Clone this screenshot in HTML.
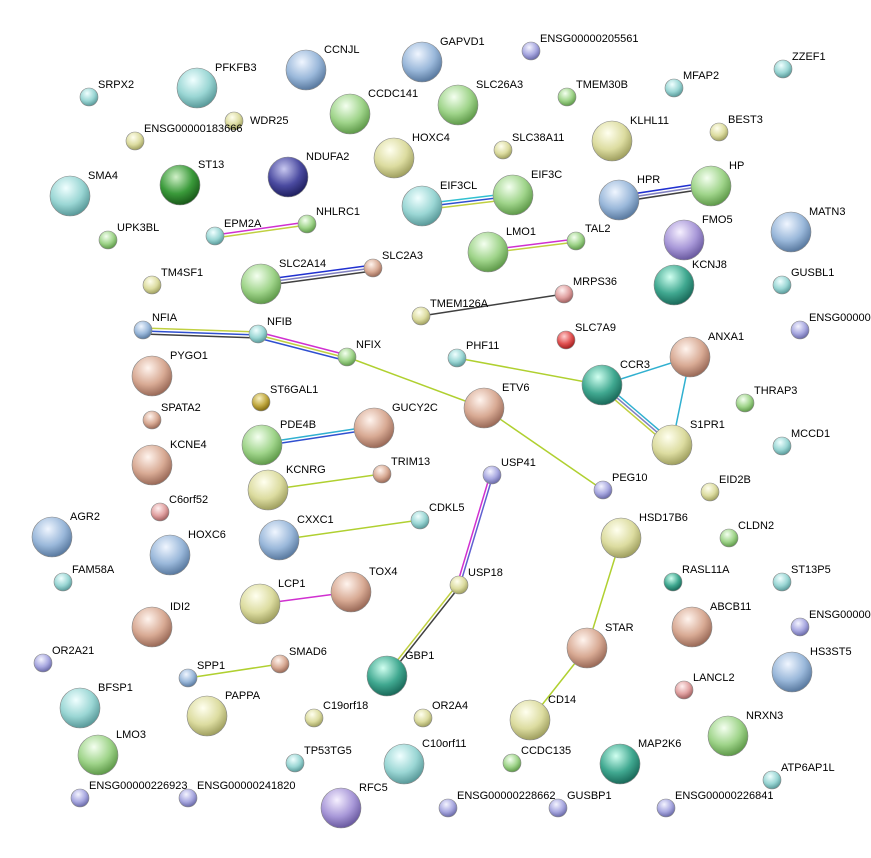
<!DOCTYPE html>
<html><head><meta charset="utf-8"><style>
html,body{margin:0;padding:0;background:#fff;}
svg text{font-family:"Liberation Sans",sans-serif;font-size:11px;fill:#000;}
</style></head><body>
<svg width="871" height="853" xmlns="http://www.w3.org/2000/svg">
<defs>
<radialGradient id="g" cx="40%" cy="30%" r="70%"><stop offset="0" stop-color="#f4fff0"/><stop offset="0.6" stop-color="#9fd48a"/><stop offset="1" stop-color="#5f9a4a"/></radialGradient>
<radialGradient id="t" cx="40%" cy="30%" r="70%"><stop offset="0" stop-color="#f0ffff"/><stop offset="0.6" stop-color="#9ad6d4"/><stop offset="1" stop-color="#5a9a9a"/></radialGradient>
<radialGradient id="b" cx="40%" cy="30%" r="70%"><stop offset="0" stop-color="#f0f6ff"/><stop offset="0.6" stop-color="#9ab8da"/><stop offset="1" stop-color="#5a7aa0"/></radialGradient>
<radialGradient id="y" cx="40%" cy="30%" r="70%"><stop offset="0" stop-color="#ffffef"/><stop offset="0.6" stop-color="#dcdca0"/><stop offset="1" stop-color="#a0a060"/></radialGradient>
<radialGradient id="r" cx="40%" cy="30%" r="70%"><stop offset="0" stop-color="#fff4ee"/><stop offset="0.6" stop-color="#d8aa94"/><stop offset="1" stop-color="#9a6a58"/></radialGradient>
<radialGradient id="p" cx="40%" cy="30%" r="70%"><stop offset="0" stop-color="#f6f0ff"/><stop offset="0.6" stop-color="#a898d8"/><stop offset="1" stop-color="#6a5aa0"/></radialGradient>
<radialGradient id="lv" cx="40%" cy="30%" r="70%"><stop offset="0" stop-color="#f4f4ff"/><stop offset="0.6" stop-color="#a8a8e0"/><stop offset="1" stop-color="#6a6aa8"/></radialGradient>
<radialGradient id="dn" cx="40%" cy="30%" r="70%"><stop offset="0" stop-color="#c8c8f0"/><stop offset="0.6" stop-color="#4a4aa0"/><stop offset="1" stop-color="#202060"/></radialGradient>
<radialGradient id="dg" cx="40%" cy="30%" r="70%"><stop offset="0" stop-color="#d0f0c8"/><stop offset="0.6" stop-color="#3a9a3a"/><stop offset="1" stop-color="#1a5a1a"/></radialGradient>
<radialGradient id="red" cx="40%" cy="30%" r="70%"><stop offset="0" stop-color="#ffd0d0"/><stop offset="0.6" stop-color="#e05050"/><stop offset="1" stop-color="#a02020"/></radialGradient>
<radialGradient id="ol" cx="40%" cy="30%" r="70%"><stop offset="0" stop-color="#f8f0c0"/><stop offset="0.6" stop-color="#c0a840"/><stop offset="1" stop-color="#806a10"/></radialGradient>
<radialGradient id="pk" cx="40%" cy="30%" r="70%"><stop offset="0" stop-color="#fff0f0"/><stop offset="0.6" stop-color="#e0a0a0"/><stop offset="1" stop-color="#a06060"/></radialGradient>
<radialGradient id="tk" cx="40%" cy="30%" r="70%"><stop offset="0" stop-color="#d0fff0"/><stop offset="0.6" stop-color="#40a890"/><stop offset="1" stop-color="#1a6a5a"/></radialGradient>
</defs>
<g stroke-width="1.5" fill="none">
<line x1="215" y1="235" x2="307" y2="222" stroke="#d030d0"/><line x1="215" y1="238" x2="307" y2="225" stroke="#c0d040"/>
<line x1="261" y1="280" x2="373" y2="265" stroke="#2030d0"/><line x1="261" y1="283" x2="373" y2="268" stroke="#8080c0"/><line x1="261" y1="286" x2="373" y2="271" stroke="#404040"/>
<line x1="422" y1="204" x2="513" y2="193" stroke="#30c0d0"/><line x1="422" y1="207" x2="513" y2="196" stroke="#3050d0"/><line x1="422" y1="210" x2="513" y2="199" stroke="#c0d040"/>
<line x1="619" y1="196" x2="711" y2="182" stroke="#2030d0"/><line x1="619" y1="199" x2="711" y2="185" stroke="#8080c0"/><line x1="619" y1="202" x2="711" y2="188" stroke="#404040"/>
<line x1="488" y1="250" x2="576" y2="239" stroke="#d030d0"/><line x1="488" y1="253" x2="576" y2="242" stroke="#c0d040"/>
<line x1="421" y1="316" x2="564" y2="294" stroke="#404040"/>
<line x1="143" y1="328" x2="258" y2="332" stroke="#c0d040"/><line x1="143" y1="331" x2="258" y2="335" stroke="#3050d0"/><line x1="143" y1="334" x2="258" y2="338" stroke="#404040"/>
<line x1="258" y1="332" x2="347" y2="355" stroke="#d030d0"/><line x1="258" y1="335" x2="347" y2="358" stroke="#c0d040"/><line x1="258" y1="338" x2="347" y2="361" stroke="#3050d0"/>
<line x1="347" y1="357" x2="484" y2="408" stroke="#b0d030"/>
<line x1="484" y1="408" x2="603" y2="490" stroke="#b0d030"/>
<line x1="457" y1="358" x2="602" y2="385" stroke="#b0d030"/>
<line x1="602" y1="385" x2="690" y2="357" stroke="#30b0d0"/><line x1="690" y1="357" x2="672" y2="445" stroke="#30b0d0"/>
<line x1="604" y1="383" x2="674" y2="443" stroke="#30b0d0"/><line x1="602" y1="385" x2="672" y2="445" stroke="#8080c0"/><line x1="600" y1="387" x2="670" y2="447" stroke="#c0d040"/>
<line x1="262" y1="443" x2="374" y2="426" stroke="#30b0d0"/><line x1="262" y1="446" x2="374" y2="429" stroke="#3050d0"/>
<line x1="268" y1="490" x2="382" y2="474" stroke="#b0d030"/>
<line x1="279" y1="540" x2="420" y2="520" stroke="#b0d030"/>
<line x1="490" y1="475" x2="457" y2="585" stroke="#d030d0"/><line x1="493" y1="475" x2="460" y2="585" stroke="#6060d0"/>
<line x1="457" y1="585" x2="385" y2="676" stroke="#c0d040"/><line x1="460" y1="586" x2="388" y2="677" stroke="#404040"/>
<line x1="260" y1="604" x2="351" y2="592" stroke="#d030d0"/>
<line x1="621" y1="538" x2="587" y2="648" stroke="#b0d030"/>
<line x1="587" y1="648" x2="530" y2="720" stroke="#b0d030"/>
<line x1="188" y1="678" x2="280" y2="664" stroke="#b0d030"/>
</g>
<g stroke="#888" stroke-width="0.6">
<circle cx="197" cy="88" r="20" fill="url(#t)"/><circle cx="306" cy="70" r="20" fill="url(#b)"/><circle cx="422" cy="62" r="20" fill="url(#b)"/><circle cx="350" cy="114" r="20" fill="url(#g)"/><circle cx="458" cy="105" r="20" fill="url(#g)"/><circle cx="612" cy="141" r="20" fill="url(#y)"/><circle cx="394" cy="158" r="20" fill="url(#y)"/><circle cx="70" cy="196" r="20" fill="url(#t)"/><circle cx="180" cy="185" r="20" fill="url(#dg)"/><circle cx="288" cy="177" r="20" fill="url(#dn)"/><circle cx="422" cy="206" r="20" fill="url(#t)"/><circle cx="513" cy="195" r="20" fill="url(#g)"/><circle cx="619" cy="200" r="20" fill="url(#b)"/><circle cx="711" cy="186" r="20" fill="url(#g)"/><circle cx="684" cy="240" r="20" fill="url(#p)"/><circle cx="791" cy="232" r="20" fill="url(#b)"/><circle cx="488" cy="252" r="20" fill="url(#g)"/><circle cx="674" cy="285" r="20" fill="url(#tk)"/><circle cx="261" cy="284" r="20" fill="url(#g)"/><circle cx="152" cy="376" r="20" fill="url(#r)"/><circle cx="690" cy="357" r="20" fill="url(#r)"/><circle cx="602" cy="385" r="20" fill="url(#tk)"/><circle cx="484" cy="408" r="20" fill="url(#r)"/><circle cx="374" cy="428" r="20" fill="url(#r)"/><circle cx="262" cy="445" r="20" fill="url(#g)"/><circle cx="672" cy="445" r="20" fill="url(#y)"/><circle cx="152" cy="465" r="20" fill="url(#r)"/><circle cx="268" cy="490" r="20" fill="url(#y)"/><circle cx="52" cy="537" r="20" fill="url(#b)"/><circle cx="279" cy="540" r="20" fill="url(#b)"/><circle cx="170" cy="555" r="20" fill="url(#b)"/><circle cx="621" cy="538" r="20" fill="url(#y)"/><circle cx="260" cy="604" r="20" fill="url(#y)"/><circle cx="351" cy="592" r="20" fill="url(#r)"/><circle cx="152" cy="627" r="20" fill="url(#r)"/><circle cx="692" cy="627" r="20" fill="url(#r)"/><circle cx="587" cy="648" r="20" fill="url(#r)"/><circle cx="792" cy="672" r="20" fill="url(#b)"/><circle cx="387" cy="676" r="20" fill="url(#tk)"/><circle cx="80" cy="708" r="20" fill="url(#t)"/><circle cx="207" cy="716" r="20" fill="url(#y)"/><circle cx="728" cy="736" r="20" fill="url(#g)"/><circle cx="530" cy="720" r="20" fill="url(#y)"/><circle cx="98" cy="755" r="20" fill="url(#g)"/><circle cx="404" cy="764" r="20" fill="url(#t)"/><circle cx="620" cy="764" r="20" fill="url(#tk)"/><circle cx="341" cy="808" r="20" fill="url(#p)"/>
<circle cx="89" cy="97" r="9" fill="url(#t)"/><circle cx="531" cy="51" r="9" fill="url(#lv)"/><circle cx="567" cy="97" r="9" fill="url(#g)"/><circle cx="674" cy="88" r="9" fill="url(#t)"/><circle cx="783" cy="69" r="9" fill="url(#t)"/><circle cx="135" cy="141" r="9" fill="url(#y)"/><circle cx="234" cy="121" r="9" fill="url(#y)"/><circle cx="503" cy="150" r="9" fill="url(#y)"/><circle cx="719" cy="132" r="9" fill="url(#y)"/><circle cx="108" cy="240" r="9" fill="url(#g)"/><circle cx="215" cy="236" r="9" fill="url(#t)"/><circle cx="307" cy="224" r="9" fill="url(#g)"/><circle cx="576" cy="241" r="9" fill="url(#g)"/><circle cx="152" cy="285" r="9" fill="url(#y)"/><circle cx="373" cy="268" r="9" fill="url(#r)"/><circle cx="782" cy="285" r="9" fill="url(#t)"/><circle cx="564" cy="294" r="9" fill="url(#pk)"/><circle cx="421" cy="316" r="9" fill="url(#y)"/><circle cx="566" cy="340" r="9" fill="url(#red)"/><circle cx="143" cy="330" r="9" fill="url(#b)"/><circle cx="258" cy="334" r="9" fill="url(#t)"/><circle cx="347" cy="357" r="9" fill="url(#g)"/><circle cx="800" cy="330" r="9" fill="url(#lv)"/><circle cx="457" cy="358" r="9" fill="url(#t)"/><circle cx="261" cy="402" r="9" fill="url(#ol)"/><circle cx="152" cy="420" r="9" fill="url(#r)"/><circle cx="745" cy="403" r="9" fill="url(#g)"/><circle cx="782" cy="446" r="9" fill="url(#t)"/><circle cx="382" cy="474" r="9" fill="url(#r)"/><circle cx="492" cy="475" r="9" fill="url(#lv)"/><circle cx="603" cy="490" r="9" fill="url(#lv)"/><circle cx="710" cy="492" r="9" fill="url(#y)"/><circle cx="160" cy="512" r="9" fill="url(#pk)"/><circle cx="420" cy="520" r="9" fill="url(#t)"/><circle cx="729" cy="538" r="9" fill="url(#g)"/><circle cx="63" cy="582" r="9" fill="url(#t)"/><circle cx="673" cy="582" r="9" fill="url(#tk)"/><circle cx="782" cy="582" r="9" fill="url(#t)"/><circle cx="459" cy="585" r="9" fill="url(#y)"/><circle cx="800" cy="627" r="9" fill="url(#lv)"/><circle cx="43" cy="663" r="9" fill="url(#lv)"/><circle cx="280" cy="664" r="9" fill="url(#r)"/><circle cx="188" cy="678" r="9" fill="url(#b)"/><circle cx="684" cy="690" r="9" fill="url(#pk)"/><circle cx="314" cy="718" r="9" fill="url(#y)"/><circle cx="423" cy="718" r="9" fill="url(#y)"/><circle cx="295" cy="763" r="9" fill="url(#t)"/><circle cx="512" cy="763" r="9" fill="url(#g)"/><circle cx="772" cy="780" r="9" fill="url(#t)"/><circle cx="80" cy="798" r="9" fill="url(#lv)"/><circle cx="188" cy="798" r="9" fill="url(#lv)"/><circle cx="448" cy="808" r="9" fill="url(#lv)"/><circle cx="558" cy="808" r="9" fill="url(#lv)"/><circle cx="666" cy="808" r="9" fill="url(#lv)"/>
</g>
<g>
<text x="215" y="71">PFKFB3</text><text x="324" y="53">CCNJL</text><text x="440" y="45">GAPVD1</text><text x="368" y="97">CCDC141</text><text x="476" y="88">SLC26A3</text><text x="630" y="124">KLHL11</text><text x="412" y="141">HOXC4</text><text x="88" y="179">SMA4</text><text x="198" y="168">ST13</text><text x="306" y="160">NDUFA2</text><text x="440" y="189">EIF3CL</text><text x="531" y="178">EIF3C</text><text x="637" y="183">HPR</text><text x="729" y="169">HP</text><text x="702" y="223">FMO5</text><text x="809" y="215">MATN3</text><text x="506" y="235">LMO1</text><text x="692" y="268">KCNJ8</text><text x="279" y="267">SLC2A14</text><text x="170" y="359">PYGO1</text><text x="708" y="340">ANXA1</text><text x="620" y="368">CCR3</text><text x="502" y="391">ETV6</text><text x="392" y="411">GUCY2C</text><text x="280" y="428">PDE4B</text><text x="690" y="428">S1PR1</text><text x="170" y="448">KCNE4</text><text x="286" y="473">KCNRG</text><text x="70" y="520">AGR2</text><text x="297" y="523">CXXC1</text><text x="188" y="538">HOXC6</text><text x="639" y="521">HSD17B6</text><text x="278" y="587">LCP1</text><text x="369" y="575">TOX4</text><text x="170" y="610">IDI2</text><text x="710" y="610">ABCB11</text><text x="605" y="631">STAR</text><text x="810" y="655">HS3ST5</text><text x="405" y="659">GBP1</text><text x="98" y="691">BFSP1</text><text x="225" y="699">PAPPA</text><text x="746" y="719">NRXN3</text><text x="548" y="703">CD14</text><text x="116" y="738">LMO3</text><text x="422" y="747">C10orf11</text><text x="638" y="747">MAP2K6</text><text x="359" y="791">RFC5</text>
<text x="98" y="88">SRPX2</text><text x="540" y="42">ENSG00000205561</text><text x="576" y="88">TMEM30B</text><text x="683" y="79">MFAP2</text><text x="792" y="60">ZZEF1</text><text x="144" y="132">ENSG00000183666</text><text x="250" y="124">WDR25</text><text x="512" y="141">SLC38A11</text><text x="728" y="123">BEST3</text><text x="117" y="231">UPK3BL</text><text x="224" y="227">EPM2A</text><text x="316" y="215">NHLRC1</text><text x="585" y="232">TAL2</text><text x="161" y="276">TM4SF1</text><text x="382" y="259">SLC2A3</text><text x="791" y="276">GUSBL1</text><text x="573" y="285">MRPS36</text><text x="430" y="307">TMEM126A</text><text x="575" y="331">SLC7A9</text><text x="152" y="321">NFIA</text><text x="267" y="325">NFIB</text><text x="356" y="348">NFIX</text><text x="809" y="321">ENSG00000</text><text x="466" y="349">PHF11</text><text x="270" y="393">ST6GAL1</text><text x="161" y="411">SPATA2</text><text x="754" y="394">THRAP3</text><text x="791" y="437">MCCD1</text><text x="391" y="465">TRIM13</text><text x="501" y="466">USP41</text><text x="612" y="481">PEG10</text><text x="719" y="483">EID2B</text><text x="169" y="503">C6orf52</text><text x="429" y="511">CDKL5</text><text x="738" y="529">CLDN2</text><text x="72" y="573">FAM58A</text><text x="682" y="573">RASL11A</text><text x="791" y="573">ST13P5</text><text x="468" y="576">USP18</text><text x="809" y="618">ENSG00000</text><text x="52" y="654">OR2A21</text><text x="289" y="655">SMAD6</text><text x="197" y="669">SPP1</text><text x="693" y="681">LANCL2</text><text x="323" y="709">C19orf18</text><text x="432" y="709">OR2A4</text><text x="304" y="754">TP53TG5</text><text x="521" y="754">CCDC135</text><text x="781" y="771">ATP6AP1L</text><text x="89" y="789">ENSG00000226923</text><text x="197" y="789">ENSG00000241820</text><text x="457" y="799">ENSG00000228662</text><text x="567" y="799">GUSBP1</text><text x="675" y="799">ENSG00000226841</text>
</g>
</svg>
</body></html>
